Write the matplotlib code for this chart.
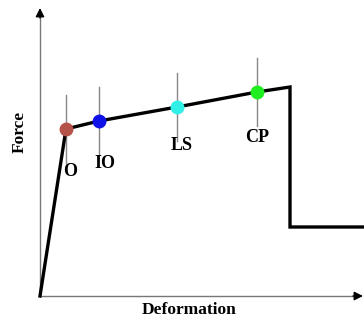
import matplotlib
matplotlib.use('Agg')
import matplotlib.pyplot as plt

# backbone curve (deformation, force) - arbitrary units
deformation = [0, 26, 59, 137, 217, 250, 250, 324]
force = [0, 167, 175, 189, 204, 209, 69, 69]

# performance points
pt_names = ['O', 'IO', 'LS', 'CP']
pt_def = [26, 59, 137, 217]
pt_force = [167, 175, 189, 204]
pt_colors = ['#b5524a', '#1010e8', '#30f0e8', '#20ee20']
# label offsets below each point
lab_dy = [-43, -42, -39, -46]
lab_dx = [4, 6, 5, 0]

fig = plt.figure(figsize=(3.64, 3.2), dpi=100)
ax = fig.add_axes([0, 0, 1, 1])
ax.set_xlim(-40, 324)
ax.set_ylim(-24, 296)
ax.axis('off')

# axes: thin gray lines with black arrow heads
ax.plot([0, 318], [0, 0], color='#777777', lw=1)
ax.plot([0, 0], [0, 282], color='#777777', lw=1)
ax.annotate('', xy=(323, 0), xytext=(313, 0),
            arrowprops=dict(arrowstyle='-|>', color='black', lw=1,
                            mutation_scale=13, shrinkA=0, shrinkB=0))
ax.annotate('', xy=(0, 288), xytext=(0, 278),
            arrowprops=dict(arrowstyle='-|>', color='black', lw=1,
                            mutation_scale=13, shrinkA=0, shrinkB=0))

# vertical ticks through the points
for i in range(len(pt_names)):
	ax.plot([pt_def[i], pt_def[i]], [pt_force[i]-34, pt_force[i]+34],
	        color='#888888', lw=1, zorder=2)

ax.plot(deformation, force, color='black', lw=2.4, zorder=3,
        solid_joinstyle='miter')

for i in range(len(pt_names)):
	ax.plot(pt_def[i], pt_force[i], 'o', ms=9, color=pt_colors[i], zorder=4)
	ax.text(pt_def[i]+lab_dx[i], pt_force[i]+lab_dy[i], pt_names[i],
	        ha='center', va='center', fontsize=13, family='Liberation Serif',
	        fontweight='bold')

ax.text(149, -14, 'Deformation', ha='center', va='center', fontsize=12.5,
        family='Liberation Serif', fontweight='bold')
ax.text(-20, 164, 'Force', ha='center', va='center', rotation=90,
        fontsize=12.5, family='Liberation Serif', fontweight='bold')

plt.savefig('out.png', dpi=100)
